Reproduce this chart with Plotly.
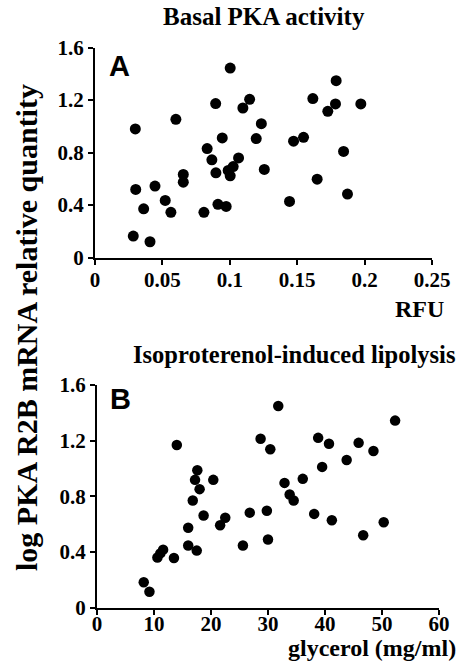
import plotly.graph_objects as go

# Panel A: Basal PKA activity (RFU) vs log PKA R2B mRNA relative quantity
rfu = [0.1003, 0.0895, 0.1147, 0.1097, 0.0600, 0.0299, 0.1234, 0.1196, 0.0944, 0.0832,
       0.0867, 0.1065, 0.1025, 0.0988, 0.1003, 0.0897, 0.1256, 0.0655, 0.0655, 0.0302,
       0.0445, 0.0521, 0.0361, 0.0563, 0.0808, 0.0912, 0.0973, 0.0284, 0.0408, 0.1789,
       0.1616, 0.1784, 0.1727, 0.1972, 0.1473, 0.1547, 0.1844, 0.1648, 0.1873, 0.1443]
mrna_a = [1.443, 1.173, 1.205, 1.139, 1.053, 0.980, 1.020, 0.906, 0.911, 0.830,
          0.744, 0.759, 0.693, 0.663, 0.622, 0.645, 0.671, 0.633, 0.574, 0.519,
          0.544, 0.435, 0.371, 0.344, 0.344, 0.405, 0.389, 0.163, 0.120, 1.347,
          1.211, 1.170, 1.114, 1.170, 0.886, 0.916, 0.808, 0.597, 0.483, 0.427]

# Panel B: Isoproterenol-induced lipolysis (glycerol mg/ml)
glycerol = [28.7, 30.4, 14.0, 17.6, 17.2, 20.4, 18.0, 16.8, 18.7, 22.5,
            21.6, 26.8, 29.8, 16.0, 16.0, 17.5, 25.6, 30.0, 11.6, 11.1,
            10.6, 13.5, 8.2, 9.2, 31.8, 38.8, 40.7, 45.9, 48.5, 52.3,
            43.8, 39.5, 36.1, 32.9, 33.8, 34.5, 38.1, 41.2, 50.3, 46.7]
mrna_b = [1.213, 1.138, 1.168, 0.987, 0.918, 0.918, 0.851, 0.770, 0.661, 0.646,
          0.591, 0.682, 0.696, 0.573, 0.446, 0.409, 0.446, 0.489, 0.416, 0.389,
          0.359, 0.356, 0.182, 0.113, 1.449, 1.220, 1.177, 1.184, 1.125, 1.344,
          1.061, 1.011, 0.925, 0.896, 0.813, 0.770, 0.673, 0.627, 0.613, 0.520]

xa_ticks = [0, 0.05, 0.1, 0.15, 0.2, 0.25]
xa_labels = ["0", "0.05", "0.1", "0.15", "0.2", "0.25"]
xb_ticks = [0, 10, 20, 30, 40, 50, 60]
xb_labels = ["0", "10", "20", "30", "40", "50", "60"]
y_ticks = [0, 0.4, 0.8, 1.2, 1.6]
y_labels = ["0", "0.4", "0.8", "1.2", "1.6"]

W, H = 463, 665
SERIF = "Liberation Serif"
tickfont = dict(family=SERIF, size=21, color="black", weight="bold")

fig = go.Figure()
fig.add_trace(go.Scatter(x=rfu, y=mrna_a, mode="markers", xaxis="x", yaxis="y",
                         marker=dict(color="black", size=11, line=dict(width=0)),
                         showlegend=False, hoverinfo="skip"))
fig.add_trace(go.Scatter(x=glycerol, y=mrna_b, mode="markers", xaxis="x2", yaxis="y2",
                         marker=dict(color="black", size=10.5, line=dict(width=0)),
                         showlegend=False, hoverinfo="skip"))

axis_common = dict(showline=True, linecolor="black", linewidth=2, ticks="outside",
                   ticklen=5, tickwidth=2, tickcolor="black", showgrid=False,
                   zeroline=False, tickfont=tickfont, fixedrange=True, automargin=False)

def px_x(p):
    return p / W

def px_y(p):
    return 1 - p / H

fig.update_layout(
    width=W, height=H,
    margin=dict(l=0, r=0, t=0, b=0, pad=0, autoexpand=False),
    paper_bgcolor="white", plot_bgcolor="white",
    xaxis=dict(domain=[px_x(95), px_x(432)], range=[0, 0.25], anchor="y",
               tickvals=xa_ticks, ticktext=xa_labels, ticklabelstandoff=-3, **axis_common),
    yaxis=dict(domain=[px_y(257.5), px_y(47.5)], range=[0, 1.6], anchor="x",
               tickvals=y_ticks, ticktext=y_labels, **axis_common),
    xaxis2=dict(domain=[px_x(97), px_x(439)], range=[0, 60], anchor="y2",
                tickvals=xb_ticks, ticktext=xb_labels, ticklabelstandoff=-9, **axis_common),
    yaxis2=dict(domain=[px_y(607.5), px_y(385)], range=[0, 1.6], anchor="x2",
                tickvals=y_ticks, ticktext=y_labels, **axis_common),
)

def txt(text, x, y, size, xanchor="center", yanchor="middle", family=SERIF, angle=0):
    fig.add_annotation(text=text, x=px_x(x), y=px_y(y), xref="paper", yref="paper",
                       xanchor=xanchor, yanchor=yanchor, showarrow=False, textangle=angle,
                       font=dict(family=family, size=size, color="black", weight="bold"))

txt("Basal PKA activity", 264, 16, 25)
txt("Isoproterenol-induced lipolysis", 293.5, 354, 24.5)
txt("RFU", 446, 309, 24, xanchor="right")
txt("glycerol (mg/ml)", 458, 648, 24, xanchor="right")
txt("log PKA R2B mRNA relative quantity", 26, 328, 30, angle=-90)
txt("A", 119, 66, 29, family="Liberation Sans")
txt("B", 120, 399, 29, family="Liberation Sans")

fig.write_html("out.html")
